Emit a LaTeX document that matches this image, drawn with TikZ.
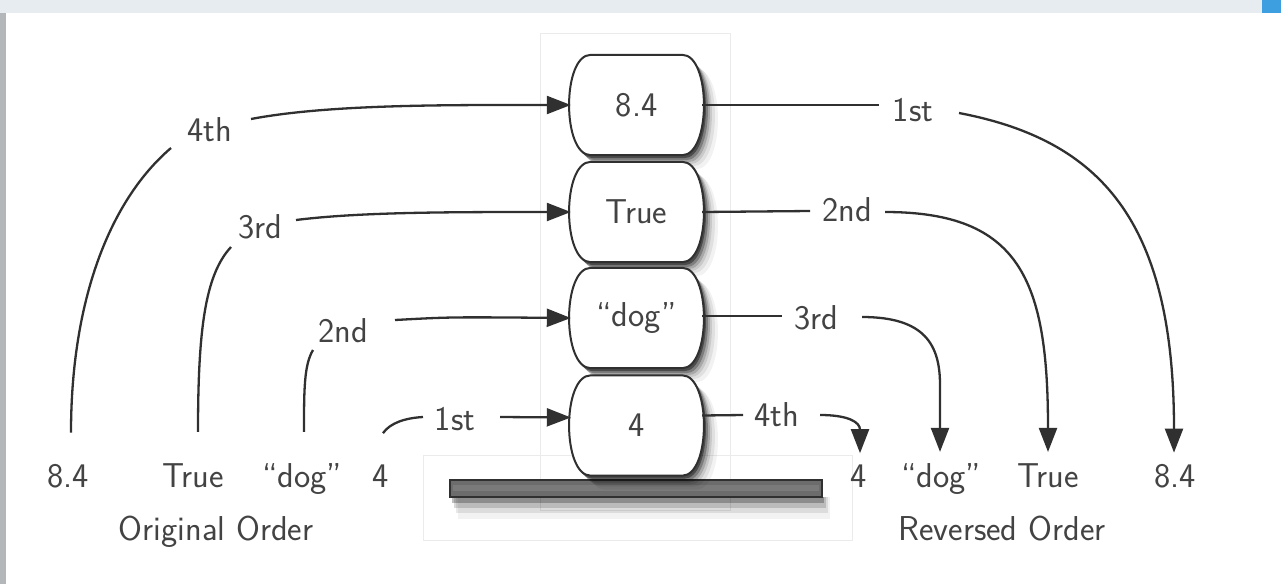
\documentclass[tikz,border=0pt]{standalone}
\usetikzlibrary{arrows.meta,calc}
\definecolor{txt}{HTML}{434343}
\definecolor{ln}{HTML}{303030}
\definecolor{topband}{HTML}{E6ECF0}
\definecolor{leftband}{HTML}{B3B7BA}
\definecolor{topblue}{HTML}{3D9EE0}
\definecolor{faint}{HTML}{EBEBEB}
\definecolor{platefill}{HTML}{6C6C6C}
\definecolor{platemid}{HTML}{7A7A7A}
\newcommand\barrelpath[3]{($(#1.north west)+(20+#2,#3)$) -- ($(#1.north east)+(-20+#2,#3)$) .. controls ($(#1.north east)+(9+#2,#3)$) and ($(#1.south east)+(9+#2,#3)$) .. ($(#1.south east)+(-20+#2,#3)$) -- ($(#1.south west)+(20+#2,#3)$) .. controls ($(#1.south west)+(-9+#2,#3)$) and ($(#1.north west)+(-9+#2,#3)$) .. cycle}
\newcommand\barrelshadow[1]{%
  \fill[black,opacity=.05] \barrelpath{#1}{14}{14};
  \fill[black,opacity=.07] \barrelpath{#1}{11}{11};
  \fill[black,opacity=.10] \barrelpath{#1}{8}{9};
  \fill[black,opacity=.16] \barrelpath{#1}{6}{7};
  \fill[black,opacity=.25] \barrelpath{#1}{4}{5};
  \fill[black,opacity=.40] \barrelpath{#1}{2}{3};}
\begin{document}
\begin{tikzpicture}[x=1pt,y=-1pt,
  lbl/.style={font=\fontsize{34.5}{40}\selectfont\sffamily, text=txt, inner sep=0pt},
  boxn/.style={lbl, minimum width=131pt, minimum height=100pt},
  conn/.style={line width=2.3pt, draw=ln},
  arr/.style={conn, -{Triangle[length=24pt,width=18pt]}},
  barrel/.style={line width=2pt, draw=ln, fill=white},
  plate/.style={minimum width=371pt, minimum height=17pt, inner sep=0pt}]
\useasboundingbox (0,0) rectangle (1281,584);
% page frame
\fill[white] (0,0) rectangle (1281,584);
\fill[topband] (0,0) rectangle (1281,13);
\fill[topblue] (1262,0) rectangle (1281,13);
\fill[leftband] (0,13) rectangle (6,584);
% faint containers
\draw[faint, line width=1pt] (540,33) rectangle (730,510);
\draw[faint, line width=1pt] (423,455) rectangle (852,540);
% boxes (stack)
\node[boxn] (b1) at (636.5,105) {};
\node[boxn] (b2) at (636.5,212) {};
\node[boxn] (b3) at (636.5,318) {};
\node[boxn] (b4) at (636.5,425.5) {};
\node[plate] (base) at (636,488.5) {};
% base plate and its shadow
\fill[black,opacity=.05] ($(base.south west)+(8,0)$) rectangle ($(base.south east)+(8,22)$);
\fill[black,opacity=.09] ($(base.south west)+(6,0)$) rectangle ($(base.south east)+(6,16)$);
\fill[black,opacity=.15] ($(base.south west)+(4,0)$) rectangle ($(base.south east)+(4,11)$);
\fill[black,opacity=.25] ($(base.south west)+(2,0)$) rectangle ($(base.south east)+(2,6)$);
\draw[ln, line width=1.8pt, fill=platefill] (base.south west) rectangle (base.north east);
\fill[platemid] ($(base.north west)+(3,5)$) rectangle ($(base.south east)+(-3,-6)$);
% barrels
\barrelshadow{b1}
\draw[barrel] \barrelpath{b1}{0}{0};
\node[lbl] (t1) at (b1) {8.4};
\barrelshadow{b2}
\draw[barrel] \barrelpath{b2}{0}{0};
\node[lbl] (t2) at (b2) {True};
\barrelshadow{b3}
\draw[barrel] \barrelpath{b3}{0}{0};
\node[lbl] (t3) at (b3) {“dog”};
\barrelshadow{b4}
\draw[barrel] \barrelpath{b4}{0}{0};
\node[lbl] (t4) at (b4) {4};
% bottom labels, original order
\node[lbl, anchor=base] (o84) at (68,487) {8.4};
\node[lbl, anchor=base] (oTrue) at (193,487) {True};
\node[lbl, anchor=base] (odog) at (302,487) {“dog”};
\node[lbl, anchor=base] (o4) at (381,487) {4};
\node[lbl, anchor=base] (orig) at (216,540) {Original Order};
% bottom labels, reversed order
\node[lbl, anchor=base] (n4) at (859,487) {4};
\node[lbl, anchor=base] (ndog) at (941,487) {“dog”};
\node[lbl, anchor=base] (nTrue) at (1048,487) {True};
\node[lbl, anchor=base] (n84) at (1175,487) {8.4};
\node[lbl, anchor=base] (rev) at (1002,540) {Reversed Order};
% order labels
\node[lbl] (l4th) at (210,130) {4th};
\node[lbl] (l3rd) at (260,227) {3rd};
\node[lbl] (l2nd) at (343,331) {2nd};
\node[lbl] (l1st) at (455,419) {1st};
\node[lbl] (r1st) at (913,110) {1st};
\node[lbl] (r2nd) at (847,210) {2nd};
\node[lbl] (r3rd) at (816,318) {3rd};
\node[lbl] (r4th) at (777,415) {4th};
% pushing (left side)
\draw[conn] ($(o84.north)+(3,-31)$) .. controls (71,300) and (110,200) .. ($(l4th)+(-39,18)$);
\draw[arr] ($(l4th)+(41,-11)$) .. controls (330,104) and (450,105) .. (b1.west);
\draw[conn] ($(oTrue.north)+(5,-31)$) .. controls (198,330) and (205,275) .. ($(l3rd)+(-29,20)$);
\draw[arr] ($(l3rd)+(36,-7)$) .. controls (360,212) and (450,212) .. (b2.west);
\draw[conn] ($(odog.north)+(2,-31)$) .. controls (304,390) and (304,365) .. ($(l2nd)+(-30,19)$);
\draw[arr] ($(l2nd)+(52,-11)$) .. controls (450,317) .. (b3.west);
\draw[conn] ($(o4.north)+(2,-31)$) .. controls (390,423) and (405,418) .. ($(l1st)+(-32,-2)$);
\draw[arr] ($(l1st)+(45,-2)$) -- ($(b4.west)+(0,-8)$);
% popping (right side)
\draw[conn] (b1.east) -- ($(r1st)+(-34,-5)$);
\draw[arr] ($(r1st)+(46,3)$) .. controls (1100,140) and (1174,220) .. ($(n84.north)+(-1,-11)$);
\draw[conn] (b2.east) -- ($(r2nd)+(-37,1)$);
\draw[arr] ($(r2nd)+(38,2)$) .. controls (1020,212) and (1048,280) .. ($(nTrue.north)+(0,-11)$);
\draw[conn] ($(b3.east)+(0,-2)$) -- ($(r3rd)+(-34,-2)$);
\draw[arr] ($(r3rd)+(46,-1)$) .. controls (925,317) and (940,345) .. (940,385) -- ($(ndog.north)+(-1,-11)$);
\draw[conn] ($(b4.east)+(0,-10)$) -- ($(r4th)+(-34,0)$);
\draw[arr] ($(r4th)+(43,0)$) .. controls (848,415) and (860,422) .. ($(n4.north)+(1,-11)$);
\end{tikzpicture}
\end{document}
